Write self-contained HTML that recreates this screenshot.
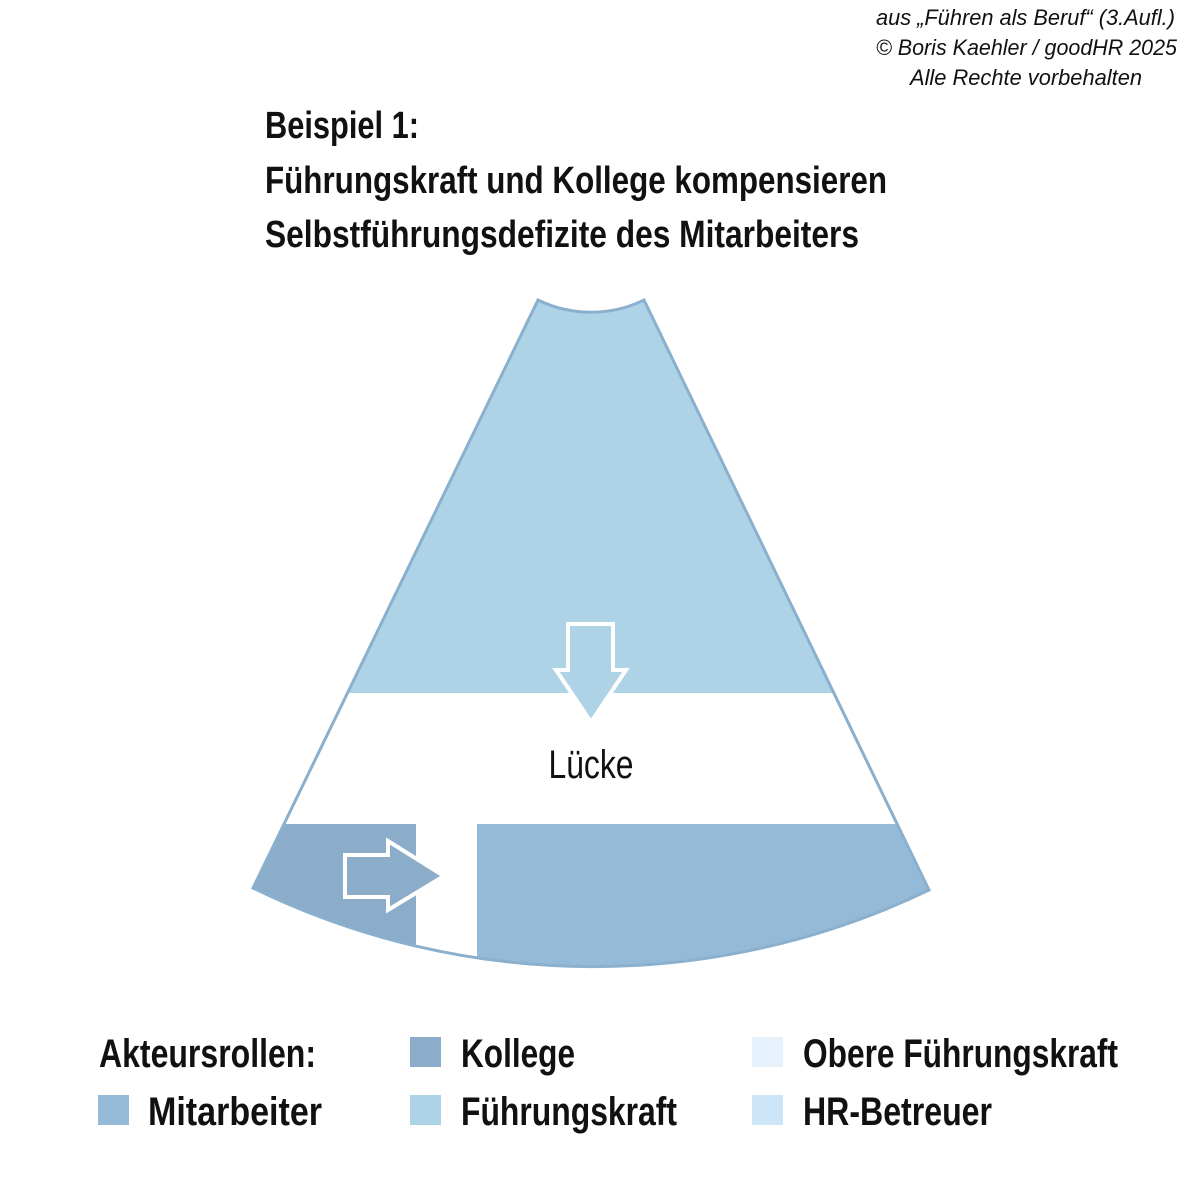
<!DOCTYPE html>
<html><head><meta charset="utf-8"><style>
html,body{margin:0;padding:0;background:#fff;width:1181px;height:1181px;overflow:hidden}
svg{display:block}
text{font-family:"Liberation Sans Narrow","Liberation Sans",sans-serif;fill:#111}
</style></head><body>
<svg width="1181" height="1181" viewBox="0 0 1181 1181" xmlns="http://www.w3.org/2000/svg">
<defs>
<clipPath id="c"><path d="M538,300 A121,121 0 0 0 644,300 L929,890 A775,775 0 0 1 253,888 Z"/></clipPath>
</defs>
<g font-style="italic" font-size="22">
<text x="876" y="25" textLength="299" lengthAdjust="spacingAndGlyphs">aus „Führen als Beruf“ (3.Aufl.)</text>
<text x="876" y="55" textLength="301" lengthAdjust="spacingAndGlyphs">© Boris Kaehler / goodHR 2025</text>
<text x="910" y="85" textLength="232" lengthAdjust="spacingAndGlyphs">Alle Rechte vorbehalten</text>
</g>
<g font-weight="bold" font-size="38">
<text x="265" y="138" textLength="154" lengthAdjust="spacingAndGlyphs">Beispiel 1:</text>
<text x="265" y="193" textLength="622" lengthAdjust="spacingAndGlyphs">Führungskraft und Kollege kompensieren</text>
<text x="265" y="247" textLength="594" lengthAdjust="spacingAndGlyphs">Selbstführungsdefizite des Mitarbeiters</text>
</g>
<g clip-path="url(#c)">
<rect x="200" y="280" width="800" height="413" fill="#AFD3E6"/>
<rect x="200" y="824" width="216" height="200" fill="#8BADC9"/>
<rect x="477" y="824" width="520" height="200" fill="#95BAD7"/>
</g>
<path d="M538,300 A121,121 0 0 0 644,300 L929,890 A775,775 0 0 1 253,888 Z" fill="none" stroke="#8AB0CE" stroke-width="3"/>
<path d="M568,624 L613,624 L613,670 L626,670 L591,722 L556,670 L568,670 Z" fill="#AFD3E6" stroke="#fff" stroke-width="4"/>
<path d="M345,855 L388,855 L388,841 L444,876 L388,910 L388,897 L345,897 Z" fill="#8BADC9" stroke="#fff" stroke-width="4"/>
<text x="591" y="778" font-size="40" text-anchor="middle" textLength="85" lengthAdjust="spacingAndGlyphs">Lücke</text>
<rect x="410" y="1037" width="31" height="30" fill="#8BADC9"/>
<rect x="98" y="1095" width="31" height="30" fill="#95BAD7"/>
<rect x="410" y="1095" width="31" height="30" fill="#AFD3E6"/>
<rect x="752" y="1037" width="31" height="30" fill="#E6F2FB"/>
<rect x="752" y="1095" width="31" height="30" fill="#CDE6F7"/>
<g font-weight="bold" font-size="40">
<text x="99" y="1067" textLength="217" lengthAdjust="spacingAndGlyphs">Akteursrollen:</text>
<text x="461" y="1067" textLength="114" lengthAdjust="spacingAndGlyphs">Kollege</text>
<text x="803" y="1067" textLength="315" lengthAdjust="spacingAndGlyphs">Obere Führungskraft</text>
<text x="148" y="1125" textLength="174" lengthAdjust="spacingAndGlyphs">Mitarbeiter</text>
<text x="461" y="1125" textLength="216" lengthAdjust="spacingAndGlyphs">Führungskraft</text>
<text x="803" y="1125" textLength="189" lengthAdjust="spacingAndGlyphs">HR-Betreuer</text>
</g>
</svg>
</body></html>
